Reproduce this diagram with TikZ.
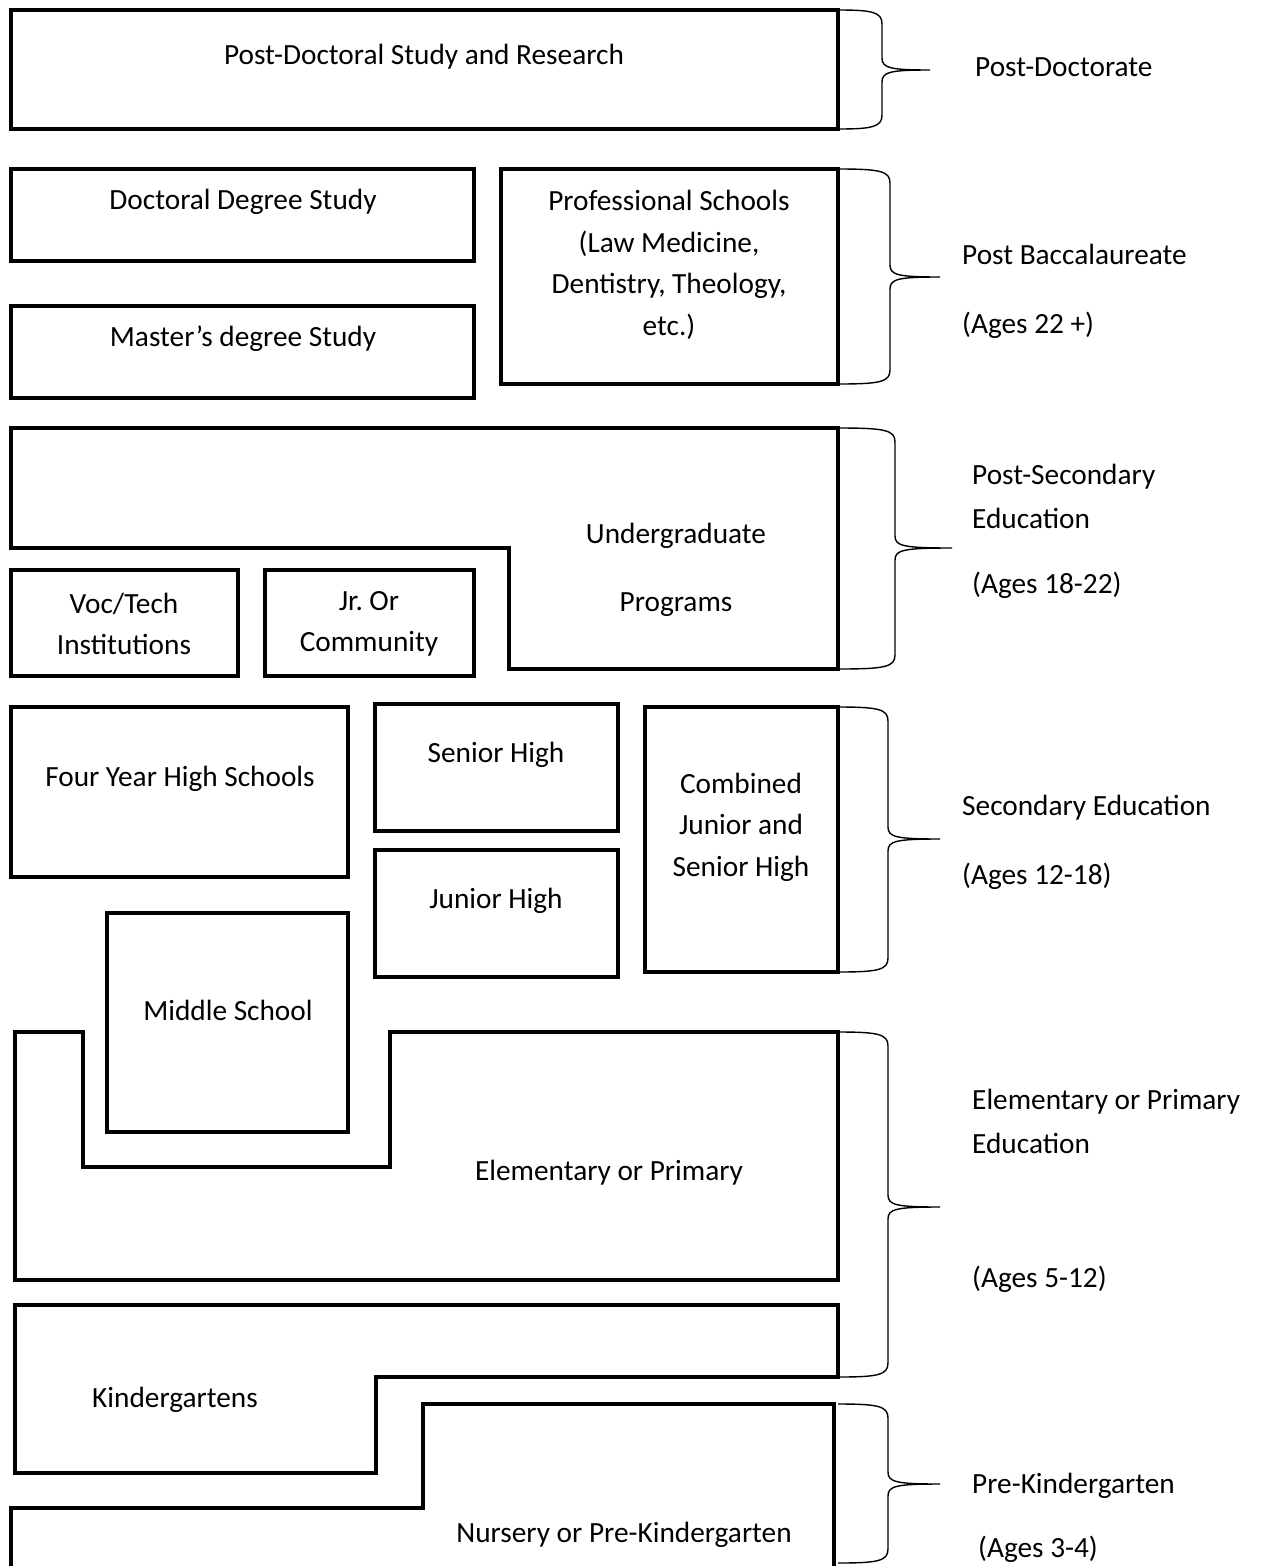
\documentclass[tikz,border=0pt]{standalone}
\usepackage{fontspec}
\setmainfont{Carlito}
\frenchspacing
% curly bracket on the right of a stage: edge x, top y, bottom y, middle y, bulge x, tip x
\newcommand\agebrace[6]{%
  \draw[brc] (#1,#2) .. controls (#5-10,#2) and (#5,#2+2) .. (#5,#2+14)
    -- (#5,#4-12) .. controls (#5,#4-2) and (#5+8,#4) .. (#6,#4)
    .. controls (#5+8,#4) and (#5,#4+2) .. (#5,#4+12)
    -- (#5,#3-14) .. controls (#5,#3-2) and (#5-10,#3) .. (#1,#3);}
\begin{document}
\begin{tikzpicture}[x=1pt,y=-1pt,
  box/.style={draw, line width=4.6pt, line join=miter},
  lbl/.style={font=\fontsize{29.3}{41.5}\selectfont, align=center, inner sep=0pt},
  side/.style={font=\fontsize{29.3}{41.5}\selectfont, anchor=west, inner sep=0pt},
  brc/.style={line width=1.4pt}]
\useasboundingbox (0,0) rectangle (1261,1566);
\clip (0,0) rectangle (1261,1566);

% plain boxes
\draw[box] (11,10) rectangle (838,129);
\draw[box] (11,169) rectangle (474,261);
\draw[box] (11,306) rectangle (474,398);
\draw[box] (501,169) rectangle (838,384);
\draw[box] (11,570) rectangle (238,676);
\draw[box] (265,570) rectangle (474,676);
\draw[box] (11,707) rectangle (348,877);
\draw[box] (375,704) rectangle (618,831);
\draw[box] (375,850) rectangle (618,977);
\draw[box] (645,707) rectangle (838,972);
\draw[box] (107,913) rectangle (348,1132);

% stepped outlines
\draw[box] (11,428) -- (838,428) -- (838,669) -- (509,669) -- (509,548) -- (11,548) -- cycle;
\draw[box] (15,1280) -- (15,1032) -- (83,1032) -- (83,1167) -- (390,1167) -- (390,1032)
  -- (838,1032) -- (838,1280) -- cycle;
\draw[box] (15,1305) -- (838,1305) -- (838,1377) -- (376,1377) -- (376,1473) -- (15,1473) -- cycle;
\draw[box] (11,1590) -- (11,1508) -- (423,1508) -- (423,1404) -- (834,1404) -- (834,1590);

% box texts
\node[lbl] (tpd) at (424,57) {Post-Doctoral Study and Research};
\node[lbl] (tdd) at (243,202) {Doctoral Degree Study};
\node[lbl] (tmd) at (243,339) {Master’s degree Study};
\node[lbl] (tps) at (669,265) {Professional Schools\\(Law Medicine,\\Dentistry, Theology,\\etc.)};
\node[lbl] (tug) at (676,570) {Undergraduate\\[27pt]Programs};
\node[lbl] (tvt) at (124,624) {Voc/Tech\\Institutions};
\node[lbl] (tjc) at (369,624) {Jr. Or\\Community};
\node[lbl] (tfy) at (180,779) {Four Year High Schools};
\node[lbl] (tsh) at (496,755) {Senior High};
\node[lbl] (tjh) at (496,901) {Junior High};
\node[lbl] (tcj) at (741,827) {Combined\\Junior and\\Senior High};
\node[lbl] (tms) at (228,1010) {Middle School};
\node[lbl] (tel) at (609,1173) {Elementary or Primary};
\node[lbl] (tkg) at (175,1400) {Kindergartens};
\node[lbl] (tnp) at (624,1535) {Nursery or Pre-Kindergarten};

% brackets
\agebrace{838}{10}{129}{70}{882}{930}
\agebrace{838}{169}{384}{277}{890}{940}
\agebrace{838}{428}{669}{548}{895}{952}
\agebrace{838}{707}{972}{839}{888}{940}
\agebrace{838}{1032}{1377}{1207}{888}{940}
\agebrace{838}{1404}{1563}{1484}{888}{940}

% stage labels
\node[side] (spd) at (975,67) {Post-Doctorate};
\node[side] (spb) at (962,254) {Post Baccalaureate};
\node[side] (spba) at (962,325) {(Ages 22 +)};
\node[side] (sps) at (972,477) {Post-Secondary};
\node[side] (spse) at (972,518) {Education};
\node[side] (spsa) at (972,585) {(Ages 18-22)};
\node[side] (sse) at (962,808) {Secondary Education};
\node[side] (ssea) at (962,876) {(Ages 12-18)};
\node[side] (sep) at (972,1102) {Elementary or Primary};
\node[side] (sepe) at (972,1143) {Education};
\node[side] (sepa) at (972,1279) {(Ages 5-12)};
\node[side] (spk) at (972,1486) {Pre-Kindergarten};
\node[side] (spka) at (978,1549) {(Ages 3-4)};
\end{tikzpicture}
\end{document}
